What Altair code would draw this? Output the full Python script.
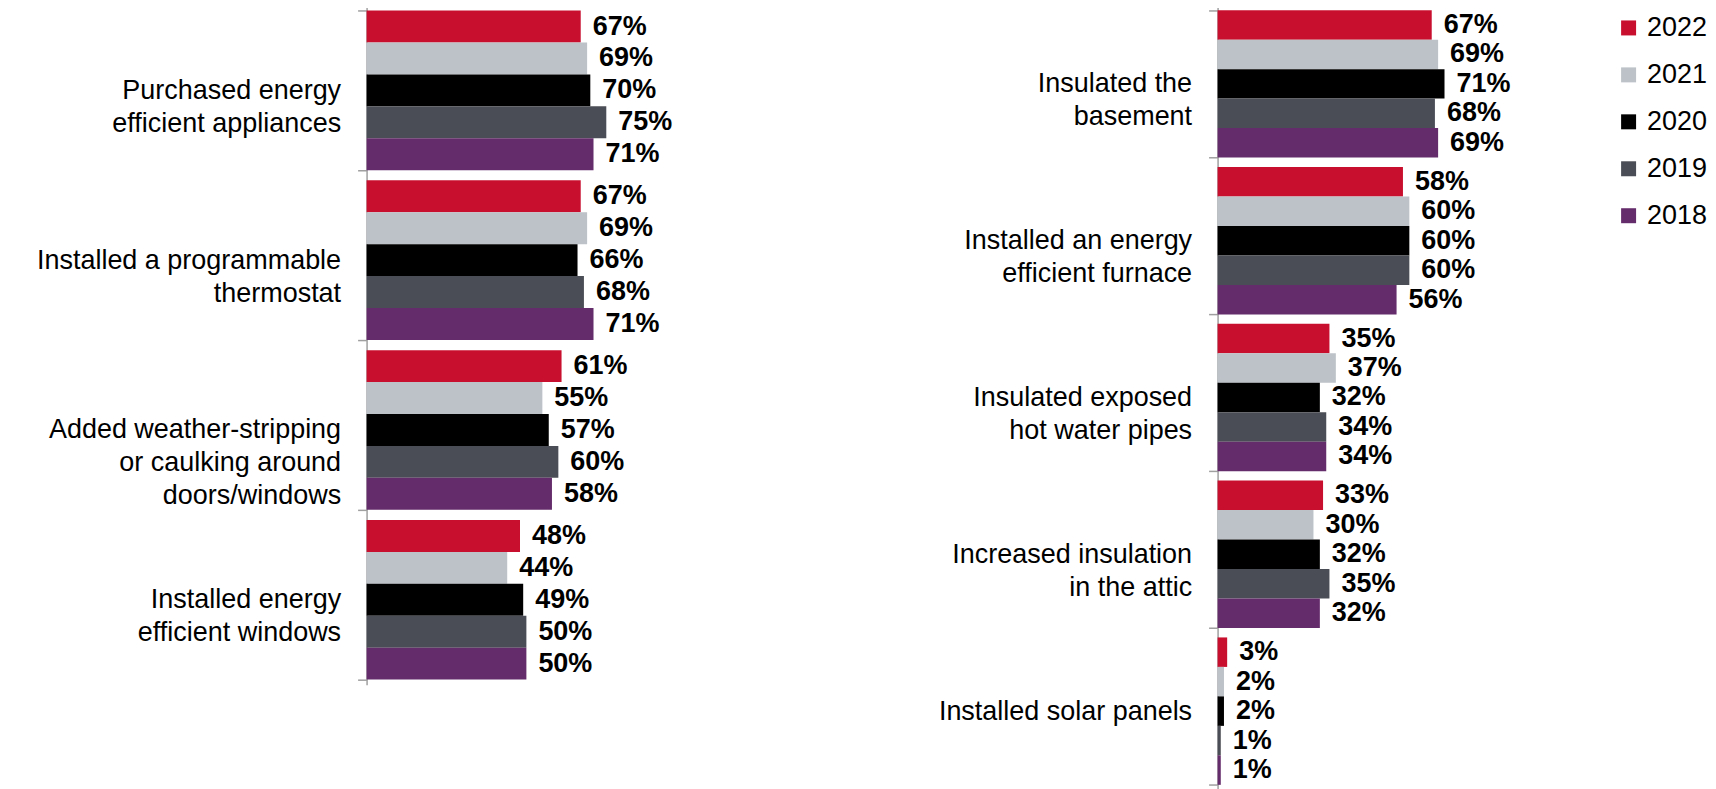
import altair as alt
import pandas as pd

years = ["2022", "2021", "2020", "2019", "2018"]
colors = ["#C8102E", "#BCC2C8", "#000000", "#4A4D55", "#642C6B"]

left_cats = [
    "Purchased energy|efficient appliances",
    "Installed a programmable|thermostat",
    "Added weather-stripping|or caulking around|doors/windows",
    "Installed energy|efficient windows",
]
left_2022 = [67, 67, 61, 48]
left_2021 = [69, 69, 55, 44]
left_2020 = [70, 66, 57, 49]
left_2019 = [75, 68, 60, 50]
left_2018 = [71, 71, 58, 50]

right_cats = [
    "Insulated the|basement",
    "Installed an energy|efficient furnace",
    "Insulated exposed|hot water pipes",
    "Increased insulation|in the attic",
    "Installed solar panels",
]
right_2022 = [67, 58, 35, 33, 3]
right_2021 = [69, 60, 37, 30, 2]
right_2020 = [71, 60, 32, 32, 2]
right_2019 = [68, 60, 34, 35, 1]
right_2018 = [69, 56, 34, 32, 1]

FONT = "Liberation Sans"


def build(cats, series):
    rows = []
    for y, vals in zip(years, series):
        for c, v in zip(cats, vals):
            rows.append({"cat": c, "year": y, "v": v, "lbl": f"{v}%"})
    return pd.DataFrame(rows)


def panel(df, cats, height, extent, legend):
    base = alt.Chart(df).encode(
        y=alt.Y(
            "cat:N",
            sort=cats,
            scale=alt.Scale(paddingInner=0.06, paddingOuter=0.03),
            axis=alt.Axis(
                title=None,
                labelExpr="split(datum.label, '|')",
                minExtent=extent,
                maxExtent=extent,
                tickBand="extent",
            ),
        ),
        yOffset=alt.YOffset("year:N", sort=years, scale=alt.Scale(paddingInner=0, paddingOuter=0)),
        x=alt.X("v:Q", scale=alt.Scale(domain=[0, 100]), axis=None),
    )
    bars = base.mark_bar().encode(
        color=alt.Color(
            "year:N",
            sort=years,
            scale=alt.Scale(domain=years, range=colors),
            legend=legend,
        )
    )
    text = base.mark_text(
        align="left", baseline="middle", dx=12, font=FONT, fontSize=27, fontWeight="bold", color="#000000"
    ).encode(text="lbl:N")
    return alt.layer(bars, text).properties(width=320, height=height)


leg = alt.Legend(
    title=None,
    orient="none",
    legendX=1250,
    legendY=9,
    symbolType="square",
    symbolSize=225,
    symbolStrokeWidth=0,
    labelFontSize=27,
    labelFont=FONT,
    labelColor="#000000",
    labelOffset=5,
    rowPadding=19,
    padding=0,
)

left = panel(build(left_cats, [left_2022, left_2021, left_2020, left_2019, left_2018]), left_cats, 680, 359, leg)
right = panel(build(right_cats, [right_2022, right_2021, right_2020, right_2019, right_2018]), right_cats, 785, 300, None)

chart = (
    alt.hconcat(left, right, spacing=232)
    .resolve_scale(color="shared", yOffset="independent", y="independent")
    .resolve_legend(color="shared")
    .properties(padding={"top": -17, "left": 0, "right": 0, "bottom": 0})
    .configure_view(stroke=None)
    .configure_axisY(
        domainColor="#A0A0A0",
        domainWidth=1.5,
        tickColor="#A0A0A0",
        tickWidth=1.5,
        tickSize=9,
        labelPadding=17,
        labelFont=FONT,
        labelFontSize=27,
        labelColor="#000000",
        labelLineHeight=33,
        labelLimit=500,
    )
)

chart.save("out.html", embed_options={"renderer": "svg", "actions": False})
